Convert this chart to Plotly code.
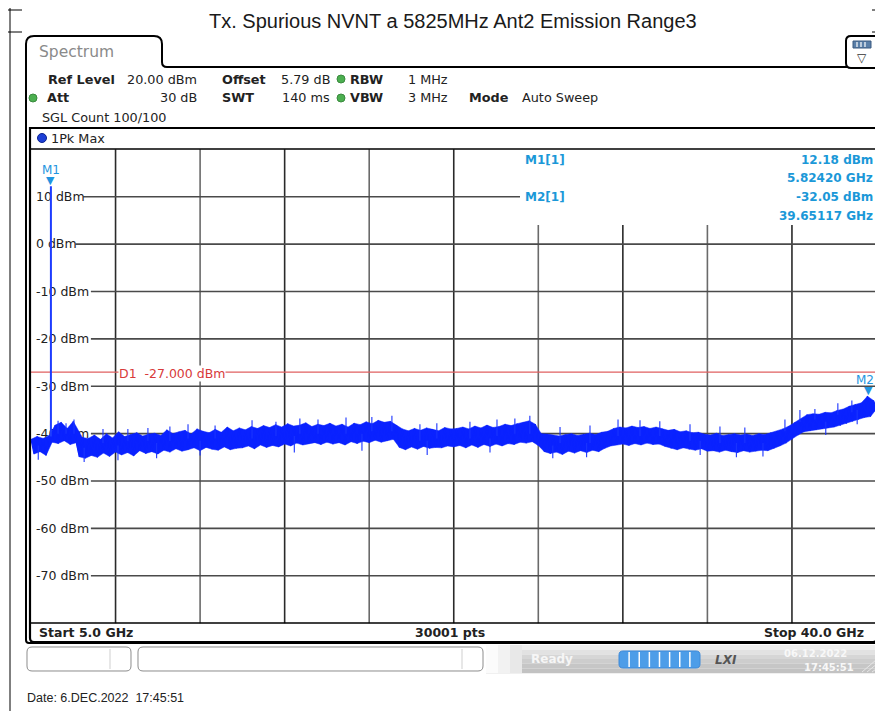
import numpy as np
import plotly.graph_objects as go

# page is shown with an 8 px body margin, so the figure is drawn 8 px in from the window corner
OX, OY = 8, 8
W, H = 875, 703

# ---------------- data ----------------
title_text = "Tx. Spurious NVNT a 5825MHz Ant2 Emission Range3"
start_ghz = 5.0
stop_ghz = 40.0
n_points = 30001
n_div = 10
ref_level = 20.0
bottom_level = -80.0
y_ticks = [10, 0, -10, -20, -30, -40, -50, -60, -70]
d1_level = -27.0
m1_freq, m1_level = 5.82420, 12.18
m2_freq, m2_level = 39.65117, -32.05
m1_base = -40.6
date_text = "Date: 6.DEC.2022\u00a0\u00a017:45:51"

# peak-hold trace, every 0.125 GHz (5.0 ... 40.0 GHz)
trace_dbm = [
    -41.2, -44.3, -40.6, -43.8, -41.0, -44.6, -40.4, -41.8, -38.2, -42.1, -37.6, -41.5, -38.9, -42.3, -37.4, -41.9, -44.9, -40.8, -45.2, -41.0,
    -44.6, -40.3, -45.0, -41.2, -44.1, -40.0, -44.8, -40.9, -43.9, -39.6, -44.5, -40.6, -44.0, -40.2, -44.7, -39.8, -43.6, -40.5, -44.2, -40.1,
    -43.8, -39.9, -44.3, -40.4, -43.5, -39.2, -43.9, -40.0, -43.2, -39.6, -43.7, -39.3, -43.4, -40.1, -43.0, -39.0, -43.6, -39.5, -42.9, -39.8,
    -43.3, -39.1, -43.5, -39.7, -42.8, -38.6, -43.4, -39.4, -43.1, -38.8, -43.0, -39.2, -42.6, -38.5, -43.2, -38.9, -42.4, -38.3, -42.9, -38.7,
    -42.5, -38.1, -42.8, -38.6, -42.2, -37.9, -42.6, -38.4, -42.0, -38.2, -42.4, -37.7, -42.1, -38.5, -41.9, -38.0, -42.3, -38.3, -41.8, -37.8,
    -42.2, -38.4, -41.9, -38.0, -42.4, -38.6, -41.7, -37.8, -42.1, -38.1, -41.6, -37.5, -41.9, -37.9, -41.4, -37.2, -41.8, -37.6, -41.5, -37.4,
    -41.2, -38.2, -42.9, -39.0, -43.4, -39.4, -42.8, -38.9, -43.3, -39.3, -42.7, -38.8, -43.1, -39.1, -42.9, -39.4, -43.0, -38.7, -42.6, -39.0,
    -42.8, -38.9, -42.5, -38.6, -43.0, -39.0, -42.4, -38.4, -42.9, -38.8, -42.3, -38.2, -42.7, -38.7, -42.2, -38.5, -42.6, -38.0, -42.1, -38.3,
    -42.3, -37.9, -41.8, -37.6, -42.0, -37.3, -41.7, -38.0, -42.5, -40.0, -43.8, -40.1, -44.2, -40.3, -43.9, -40.5, -44.4, -40.2, -43.7, -40.0,
    -44.1, -40.4, -43.6, -40.1, -44.0, -39.9, -43.5, -40.2, -43.8, -39.7, -43.1, -39.5, -42.6, -38.9, -42.4, -38.6, -42.2, -38.8, -42.5, -38.4,
    -42.1, -38.7, -42.4, -38.5, -42.0, -38.9, -42.3, -38.6, -42.2, -39.0, -42.7, -39.3, -43.1, -39.1, -43.4, -39.6, -43.0, -39.4, -43.3, -39.8,
    -43.5, -39.7, -43.2, -40.1, -43.7, -40.3, -43.6, -39.9, -43.9, -40.4, -43.5, -40.2, -43.8, -40.0, -44.0, -40.3, -43.6, -40.1, -43.9, -40.4,
    -43.7, -40.0, -43.5, -40.2, -43.6, -39.8, -43.1, -39.5, -42.6, -39.0, -42.0, -38.4, -41.2, -37.6, -40.3, -36.9, -39.6, -36.0, -39.4, -35.8,
    -39.2, -35.9, -39.0, -35.5, -38.8, -35.6, -38.6, -35.1, -38.3, -34.8, -37.9, -34.2, -37.4, -33.8, -37.0, -33.5, -36.6, -32.1, -36.4, -33.0,
    -34.8,
]
trace_freq = np.linspace(start_ghz, stop_ghz, len(trace_dbm))

# isolated noise spikes: frequency (GHz), tip and foot (dBm)
spike_up_freq = [6.12, 6.45, 6.78, 7.98, 9.01, 9.84, 10.75, 11.50, 12.62, 14.15, 15.14, 16.13, 16.88, 18.04,
                 19.11, 19.94, 21.10, 21.80, 23.17, 24.29, 25.03, 25.65, 26.90, 28.14, 29.30, 30.21, 31.03,
                 32.28, 33.52, 34.55, 36.21, 36.83, 37.45, 38.40, 38.98]
spike_up_tip = [-37.3, -37.8, -37.0, -39.0, -39.0, -38.8, -38.5, -38.0, -38.3, -37.2, -37.5, -36.8, -37.0, -36.6,
                -36.5, -36.2, -38.0, -37.8, -37.5, -37.0, -36.8, -36.2, -38.6, -38.3, -37.0, -37.2, -37.4,
                -38.0, -38.5, -38.7, -37.0, -35.0, -34.8, -33.6, -33.0]
spike_up_foot = [-40.0, -40.0, -40.0, -42.0, -41.5, -41.5, -41.5, -41.0, -41.0, -41.0, -40.5, -40.0, -40.0, -40.0,
                 -39.5, -39.5, -41.5, -41.0, -41.0, -40.5, -40.0, -40.0, -42.0, -42.0, -40.5, -40.5, -40.5,
                 -41.5, -42.0, -42.0, -39.5, -37.5, -37.0, -36.0, -35.5]
spike_dn_freq = [5.30, 7.20, 8.60, 10.20, 12.00, 15.90, 18.70, 21.40, 24.00, 26.60, 28.00, 32.70, 34.20, 35.30,
                 37.90, 39.20]
spike_dn_tip = [-45.5, -46.0, -45.6, -45.2, -44.6, -44.0, -43.6, -44.5, -44.0, -45.2, -45.0, -44.5, -45.0, -44.8,
                -40.3, -38.0]
spike_dn_foot = [-42.5, -43.0, -42.5, -42.0, -41.5, -40.5, -40.0, -41.5, -41.0, -42.5, -42.0, -41.5, -42.0, -42.0,
                 -37.5, -35.0]

grid_freqs = [start_ghz + k * (stop_ghz - start_ghz) / n_div for k in range(1, n_div)]

# band body: for each consecutive pair of read values, the higher and the lower one
up_x, up_y, lo_x, lo_y = [], [], [], []
for k in range(0, len(trace_dbm), 2):
    pair = [(trace_freq[j], trace_dbm[j]) for j in (k, k + 1) if j < len(trace_dbm)]
    hi = max(pair, key=lambda t: t[1])
    lo = min(pair, key=lambda t: t[1])
    up_x.append(hi[0]); up_y.append(hi[1])
    lo_x.append(lo[0]); lo_y.append(lo[1])

sp_x, sp_y = [], []
for f, a, b in list(zip(spike_up_freq, spike_up_tip, spike_up_foot)) + list(zip(spike_dn_freq, spike_dn_tip, spike_dn_foot)):
    sp_x += [f, f, None]
    sp_y += [b, a, None]

# ---------------- layout helpers ----------------
PL, PR, PT, PB = 31.0, 876.5, 149.3, 623.2   # plot area in window px


def px(x):
    return (x - OX) / W


def py(y):
    return 1 - (y - OY) / H


def P(x, y):
    return f"{px(x):.5f},{py(y):.5f}"


FONT = "DejaVu Sans"
BLUE_TXT = "#1b98d8"
shapes = []
ann = []


def line(x0, y0, x1, y1, color="black", width=1.5, layer="above"):
    shapes.append(dict(type="line", xref="paper", yref="paper", x0=px(x0), y0=py(y0),
                       x1=px(x1), y1=py(y1), line=dict(color=color, width=width), layer=layer))


def rect(x0, y0, x1, y1, fill, color=None, width=0, layer="below"):
    shapes.append(dict(type="rect", xref="paper", yref="paper", x0=px(x0), y0=py(y0),
                       x1=px(x1), y1=py(y1), fillcolor=fill,
                       line=dict(color=color or fill, width=width), layer=layer))


def rrect_path(x0, y0, x1, y1, r):
    return (f"M {P(x0 + r, y0)} L {P(x1 - r, y0)} Q {P(x1, y0)} {P(x1, y0 + r)} "
            f"L {P(x1, y1 - r)} Q {P(x1, y1)} {P(x1 - r, y1)} L {P(x0 + r, y1)} "
            f"Q {P(x0, y1)} {P(x0, y1 - r)} L {P(x0, y0 + r)} Q {P(x0, y0)} {P(x0 + r, y0)} Z")


def path(d, color="black", width=2, fill=None, layer="above"):
    s = dict(type="path", xref="paper", yref="paper", path=d,
             line=dict(color=color, width=width), layer=layer)
    if fill:
        s["fillcolor"] = fill
    shapes.append(s)


def text(t, x, y, anchor="left", size=12.5, color="#222", bold=False, family=FONT, bg=None, italic=False):
    if bold:
        t = f"<b>{t}</b>"
    if italic:
        t = f"<i>{t}</i>"
    a = dict(text=t, x=px(x), y=py(y), xref="paper", yref="paper", xanchor=anchor,
             yanchor="middle", showarrow=False, font=dict(family=family, size=size, color=color))
    if bg:
        a["bgcolor"] = bg
        a["borderpad"] = 0
    ann.append(a)


def dot(x, y, r, fill, color=None):
    shapes.append(dict(type="circle", xref="paper", yref="paper", x0=px(x - r), y0=py(y - r),
                       x1=px(x + r), y1=py(y + r), fillcolor=fill,
                       line=dict(color=color or fill, width=1), layer="above"))


# ---------------- outer page frame ----------------
line(10, 8, 10, 719, "black", 1)
line(8, 10, 22, 10, "black", 1)
line(8, 32, 22, 32, "black", 1)
line(872, 10, 883, 10, "black", 1)
line(872, 32, 883, 32, "black", 1)
line(880, 8, 880, 34, "black", 1)

# title
text(title_text, 453, 21, anchor="center", size=20, color="#1a1a1a", family="Liberation Sans, Arial")

# ---------------- spectrum panel ----------------
panel = (f"M {P(26, 640)} L {P(26, 44)} Q {P(26, 36)} {P(34, 36)} L {P(154, 36)} "
         f"Q {P(162, 36)} {P(162, 44)} L {P(162, 62)} Q {P(162, 67)} {P(167, 67)} L {P(881, 67)} "
         f"L {P(881, 640)} Q {P(881, 643)} {P(878, 643)} L {P(29, 643)} Q {P(26, 643)} {P(26, 640)} Z")
path(panel, "black", 2)
text("Spectrum", 37, 52, size=15.5, color="#8a8a8a")

# icon box at top right
path(rrect_path(846, 36, 880, 68, 5), "black", 2, fill="white")
rect(853, 41, 871, 48, "#5a7fa8", "#3a5a80", 1, layer="above")
for xx in (857, 861, 865):
    line(xx, 42, xx, 47, "white", 1.2)
text("\u25bd", 862, 58, anchor="center", size=12, color="#333")

# setting rows
text("Ref Level", 46, 79, bold=True, size=12.8)
text("20.00 dBm", 199, 79, anchor="right", size=12.8)
text("Offset", 220, 79, bold=True, size=12.8)
text("5.79 dB", 332, 79, anchor="right", size=12.8)
dot(341, 79, 4, "#4caf50", "#3a8a3e")
text("RBW", 348, 79, bold=True, size=12.8)
text("1 MHz", 406, 79, size=12.8)

dot(33, 98, 4, "#4caf50", "#3a8a3e")
text("Att", 45, 98, bold=True, size=12.8)
text("30 dB", 199, 98, anchor="right", size=12.8)
text("SWT", 220, 98, bold=True, size=12.8)
text("140 ms", 332, 98, anchor="right", size=12.8)
dot(341, 98, 4, "#4caf50", "#3a8a3e")
text("VBW", 348, 98, bold=True, size=12.8)
text("3 MHz", 406, 98, size=12.8)
text("Mode", 467, 98, bold=True, size=12.8)
text("Auto Sweep", 520, 98, size=12.8)

text("SGL Count 100/100", 40, 117, size=12.8)

# ---------------- graph box ----------------
gbox = (f"M {P(30, 128)} L {P(877, 128)} L {P(877, 638)} Q {P(877, 642)} {P(873, 642)} "
        f"L {P(34, 642)} Q {P(30, 642)} {P(30, 638)} Z")
path(gbox, "black", 2.2)
line(30, 149, 877, 149, "black", 1.5)
line(30, 623, 877, 623, "black", 1.5)
dot(42, 138, 4.5, "#1d3fd6", "#0a2390")
text("1Pk Max", 49, 138, size=12.8)

# vertical grid lines (frequency divisions)
for i, f in enumerate(grid_freqs):
    top = 225 if f > 25 else PT
    col = "#2a2a2a" if i % 2 == 0 else "#6a6a6a"
    shapes.append(dict(type="line", xref="x", yref="paper", x0=f, x1=f, y0=py(PB), y1=py(top),
                       line=dict(color=col, width=1.6), layer="below"))

# horizontal grid lines, starting after their labels
for v in y_ticks:
    lab = f"{v} dBm"
    x0 = 36 + 7.7 * len(lab) + 1
    x1 = 520 if v == 10 else PR
    shapes.append(dict(type="line", xref="paper", yref="y", x0=px(x0), x1=px(x1), y0=v, y1=v,
                       line=dict(color="#4a4a4a", width=1.6), layer="below"))

# display line D1
shapes.append(dict(type="line", xref="paper", yref="y", x0=px(PL), x1=px(PR), y0=d1_level, y1=d1_level,
                   line=dict(color="#e06060", width=1.3), layer="below"))
ann.append(dict(text=f"D1  {d1_level:.3f} dBm", x=px(118), y=d1_level, xref="paper", yref="y",
                xanchor="left", yanchor="middle", yshift=-1, showarrow=False, bgcolor="white", borderpad=0,
                font=dict(family=FONT, size=12.5, color="#d83a3a")))

# marker table
text("M1[1]", 523, 160, color=BLUE_TXT, bold=True, size=12)
text(f"{m1_level:.2f} dBm", 875, 160, anchor="right", color=BLUE_TXT, bold=True, size=12)
text(f"{m1_freq:.5f} GHz", 875, 178, anchor="right", color=BLUE_TXT, bold=True, size=12)
text("M2[1]", 523, 197, color=BLUE_TXT, bold=True, size=12)
text(f"{m2_level:.2f} dBm", 875, 197, anchor="right", color=BLUE_TXT, bold=True, size=12)
text(f"{m2_freq:.5f} GHz", 875, 216, anchor="right", color=BLUE_TXT, bold=True, size=12)

# marker symbols
for name, f, lv in (("M1", m1_freq, m1_level), ("M2", m2_freq, m2_level)):
    ann.append(dict(text="\u25bc", x=f, y=lv, xref="x", yref="y", xanchor="center", yanchor="bottom",
                    yshift=-3, showarrow=False, font=dict(family=FONT, size=11, color="#1f95e0")))
    ann.append(dict(text=name, x=f, y=lv, xref="x", yref="y", xanchor="right" if f > 30 else "center",
                    xshift=8 if f > 30 else 0,
                    yanchor="middle", yshift=16, showarrow=False, font=dict(family=FONT, size=12, color="#1f95e0")))

# bottom row
text(f"Start {start_ghz:.1f} GHz", 37, 632, bold=True)
text(f"{n_points} pts", 450, 632, anchor="center", bold=True)
text(f"Stop {stop_ghz:.1f} GHz", 866, 632, anchor="right", bold=True)

# ---------------- status bar ----------------
grad = ["#eeeeee", "#e2e2e2", "#d6d6d6", "#cdcdcd", "#c6c6c6", "#c2c2c2"]
for k, c in enumerate(grad):
    rect(486, 645 + k * 4.7, 883, 645 + (k + 1) * 4.7, c)
for k, c in enumerate(["#fbfbfb", "#f2f2f2", "#e8e8e8"]):
    rect(486 + k * 12, 645, 498 + k * 12, 673, c)
path(rrect_path(27, 647, 131, 671, 5), "#8c8c8c", 1, fill="white")
line(110, 649, 110, 669, "#cfcfcf", 1)
path(rrect_path(138, 647, 483, 671, 5), "#8c8c8c", 1, fill="white")
line(462, 649, 462, 669, "#cfcfcf", 1)
text("Ready", 552, 659, anchor="center", size=12, color="#f6f6f6", bold=True)
path(rrect_path(619, 651, 700, 668, 4), "#3f8ad8", 1, fill="#4d9de8")
for k in range(1, 8):
    xx = 619 + k * 81 / 8
    line(xx, 652, xx, 667, "white", 1.5)
text("LXI", 726, 660, anchor="center", size=12, color="#555", bold=True, italic=True)
text("06.12.2022", 815, 653, anchor="center", size=10, color="#f8f8f8", bold=True)
text("17:45:51", 829, 667, anchor="center", size=10, color="#f8f8f8", bold=True)
for k in range(4):
    line(862 + k * 5, 672, 883, 654 + k * 5, "#e6e6e6", 1)

# footer date
text(date_text, 25, 698, size=12.5, color="#222", family="Liberation Sans, Arial")

# ---------------- traces ----------------
fig = go.Figure()
fig.add_trace(go.Scatter(x=up_x + lo_x[::-1], y=up_y + lo_y[::-1], mode="lines", fill="toself",
                         fillcolor="#0a22ff", line=dict(color="#0a22ff", width=0.5),
                         hoverinfo="skip", showlegend=False))
fig.add_trace(go.Scatter(x=trace_freq, y=trace_dbm, mode="lines",
                         line=dict(color="#0a22ff", width=1.2), hoverinfo="skip", showlegend=False))
fig.add_trace(go.Scatter(x=sp_x, y=sp_y, mode="lines", connectgaps=False,
                         line=dict(color="#1a34ff", width=1.1), hoverinfo="skip", showlegend=False))
fig.add_trace(go.Scatter(x=[m1_freq, m1_freq], y=[m1_base, m1_level], mode="lines",
                         line=dict(color="#1d3cff", width=2), hoverinfo="skip", showlegend=False))

fig.update_layout(
    width=W, height=H, margin=dict(l=0, r=0, t=0, b=0),
    paper_bgcolor="white", plot_bgcolor="white", showlegend=False,
    shapes=shapes, annotations=ann,
    xaxis=dict(range=[start_ghz, stop_ghz], domain=[px(PL), px(PR)], showgrid=False,
               zeroline=False, showticklabels=False, ticks="", showline=False, fixedrange=True),
    yaxis=dict(range=[bottom_level, ref_level], domain=[py(PB), py(PT)], showgrid=False,
               zeroline=False, tickvals=y_ticks, ticktext=[f"{v} dBm" for v in y_ticks],
               ticklabelposition="inside", ticks="", ticklabelstandoff=2, showline=False,
               layer="below traces", tickfont=dict(family=FONT, size=12.5, color="#222"),
               fixedrange=True),
)

fig.write_html("out.html", config={"displayModeBar": False})
